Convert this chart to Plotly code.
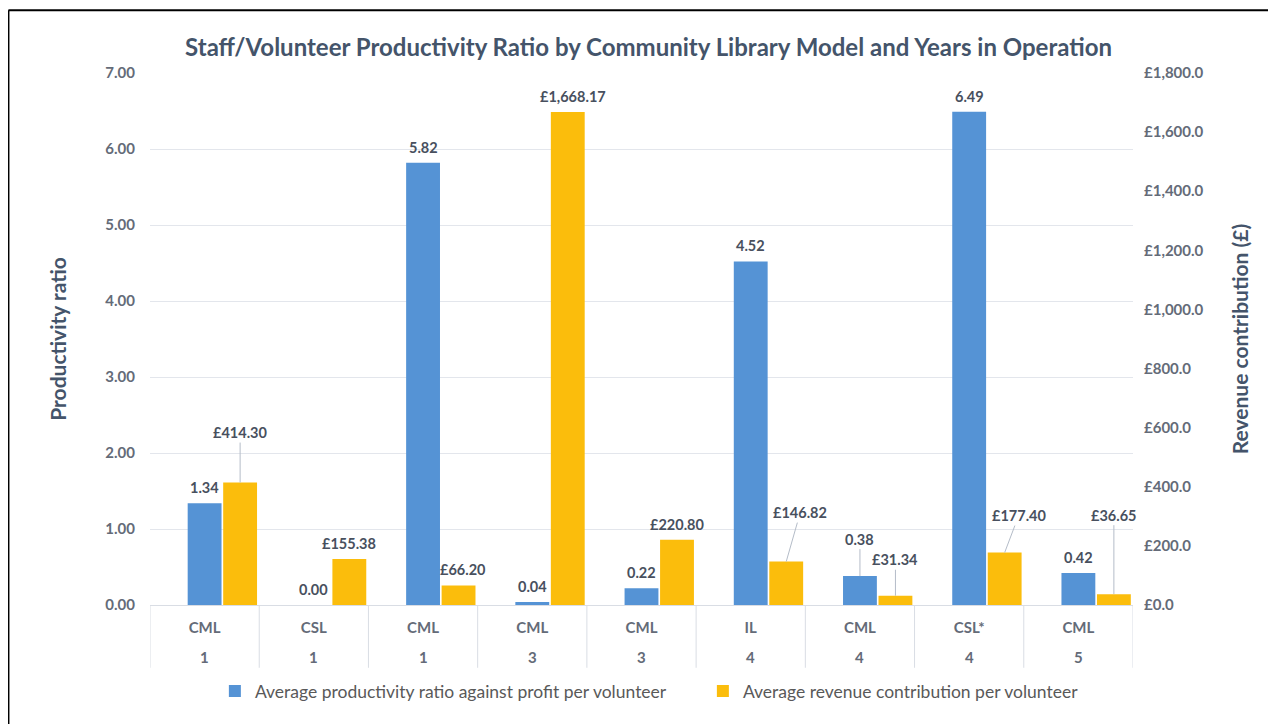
import plotly.graph_objects as go

# chart data
models = ["CML", "CSL", "CML", "CML", "CML", "IL", "CML", "CSL*", "CML"]
years = ["1", "1", "1", "3", "3", "4", "4", "4", "5"]
productivity = [1.34, 0.00, 5.82, 0.04, 0.22, 4.52, 0.38, 6.49, 0.42]
revenue = [414.30, 155.38, 66.20, 1668.17, 220.80, 146.82, 31.34, 177.40, 36.65]

blue_name = "Average productivity ratio against profit per volunteer"
orange_name = "Average revenue contribution per volunteer"

# label placement tweaks (pixel offsets for labels with leader lines)
blue_leaders = {6: (0, -37)}
orange_leaders = {0: (0, -50), 5: (14, -49), 6: (0, -36), 7: (14, -37), 8: (0, -79)}
orange_shift = {2: 4, 3: 5}

BLUE = "#5593d5"
ORANGE = "#fbbd0c"
TITLE_C = "#44546a"
TICK_C = "#646b78"
LABEL_C = "#48505e"
FONT = "Lato"

BAR_W = 0.31
BLUE_OFF = -0.155
ORANGE_OFF = 0.17

x = list(range(len(models)))

fig = go.Figure()
fig.add_trace(go.Bar(
    x=x, y=productivity, name=blue_name, yaxis="y",
    offset=BLUE_OFF, width=BAR_W,
    marker=dict(color=BLUE, line=dict(width=0)),
))
fig.add_trace(go.Bar(
    x=x, y=revenue, name=orange_name, yaxis="y2",
    offset=ORANGE_OFF, width=BAR_W,
    marker=dict(color=ORANGE, line=dict(width=0)),
))

annotations = []
label_font = dict(family=FONT, size=14.5, color=LABEL_C, weight="bold")

for i, v in enumerate(productivity):
    xc = i + BLUE_OFF + BAR_W / 2
    if i in blue_leaders:
        ax, ay = blue_leaders[i]
        annotations.append(dict(x=xc, y=v, xref="x", yref="y", text=f"{v:.2f}",
                                showarrow=True, arrowhead=0, arrowwidth=1, arrowcolor="#b4bcc8",
                                ax=ax, ay=ay, standoff=0, font=label_font))
    else:
        annotations.append(dict(x=xc, y=v, xref="x", yref="y", text=f"{v:.2f}",
                                showarrow=False, yanchor="bottom", yshift=5, font=label_font))

for i, v in enumerate(revenue):
    xc = i + ORANGE_OFF + BAR_W / 2
    txt = f"£{v:,.2f}"
    if i in orange_leaders:
        ax, ay = orange_leaders[i]
        annotations.append(dict(x=xc, y=v, xref="x", yref="y2", text=txt,
                                showarrow=True, arrowhead=0, arrowwidth=1, arrowcolor="#b4bcc8",
                                ax=ax, ay=ay, standoff=0, font=label_font))
    else:
        annotations.append(dict(x=xc, y=v, xref="x", yref="y2", text=txt,
                                showarrow=False, yanchor="bottom", yshift=5,
                                xshift=orange_shift.get(i, 0), font=label_font))

# second row of the category axis (years in operation)
for i, yr in enumerate(years):
    annotations.append(dict(x=i, y=-0.098, xref="x", yref="paper", text=yr,
                            showarrow=False, yanchor="middle",
                            font=dict(family=FONT, size=15, color=TICK_C, weight="bold")))

shapes = []
# category dividers under the axis
for i in range(len(models) + 1):
    shapes.append(dict(type="line", xref="x", yref="paper", x0=i - 0.5, x1=i - 0.5,
                       y0=0, y1=-0.118, line=dict(color="#d9dde4", width=1)))
# outer frame (top and left edges)
shapes.append(dict(type="line", xref="paper", yref="paper", x0=-0.144, x1=1.2,
                   y0=1.118, y1=1.118, line=dict(color="black", width=2)))
shapes.append(dict(type="line", xref="paper", yref="paper", x0=-0.144, x1=-0.144,
                   y0=1.118, y1=-0.3, line=dict(color="black", width=2)))

fig.update_layout(
    width=1276, height=724,
    margin=dict(l=142, r=151, t=65, b=127),
    paper_bgcolor="white", plot_bgcolor="white",
    barmode="overlay",
    title=dict(text="<b>Staff/Volunteer Productivity Ratio by Community Library Model and Years in Operation</b>",
               x=0.502, xanchor="center", y=0.945, yanchor="middle",
               font=dict(family=FONT, size=24, color=TITLE_C)),
    font=dict(family=FONT, color=TICK_C),
    xaxis=dict(
        range=[-0.5, len(models) - 0.5],
        tickmode="array", tickvals=x, ticktext=models,
        tickfont=dict(family=FONT, size=15, color=TICK_C, weight="bold"),
        ticks="", ticklabelstandoff=9,
        showgrid=False, showline=True, linecolor="#d9dde4", linewidth=1,
        zeroline=False, fixedrange=True,
    ),
    yaxis=dict(
        range=[0, 7], dtick=1, tickformat=".2f",
        tickfont=dict(family=FONT, size=15, color=TICK_C, weight="bold"),
        gridcolor="#e3e6ec", gridwidth=1, zeroline=False, showline=False,
        ticklabelstandoff=14,
        title=dict(text="<b>Productivity ratio</b>", standoff=32,
                   font=dict(family=FONT, size=21, color=TITLE_C)),
    ),
    yaxis2=dict(
        range=[0, 1800], dtick=200, tickprefix="£", tickformat=",.1f",
        overlaying="y", side="right",
        tickfont=dict(family=FONT, size=15, color=TICK_C, weight="bold"),
        showgrid=False, zeroline=False, showline=False,
        ticklabelstandoff=10,
        title=dict(text="<b>Revenue contribution (£)</b>", standoff=30,
                   font=dict(family=FONT, size=21, color=TITLE_C)),
    ),
    legend=dict(orientation="h", x=0.066, xanchor="left", y=-0.162, yanchor="middle",
                entrywidth=443, entrywidthmode="pixels",
                font=dict(family=FONT, size=17.5, color="#595959"),
                itemsizing="constant", traceorder="normal"),
    showlegend=True,
    annotations=annotations,
    shapes=shapes,
)

fig.write_html("out.html")
